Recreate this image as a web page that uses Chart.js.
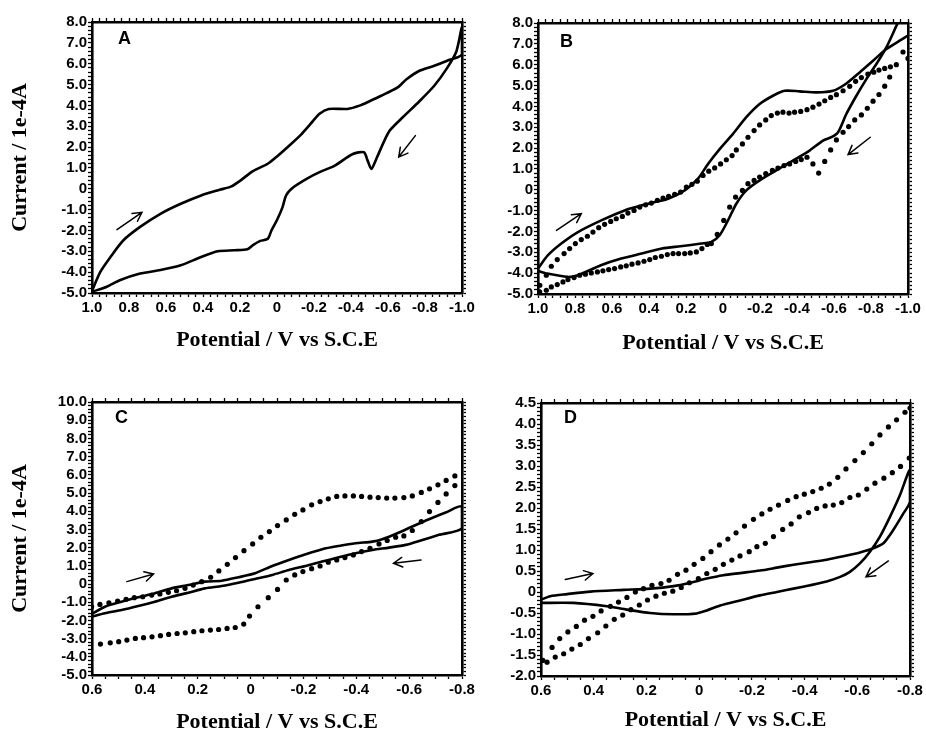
<!DOCTYPE html>
<html><head><meta charset="utf-8">
<script src="https://cdn.jsdelivr.net/npm/chart.js@4/dist/chart.umd.min.js"></script>
<style>
html,body{margin:0;padding:0;background:#fff;overflow:hidden;width:926px;height:730px}
#wrap{position:relative;width:926px;height:730px;overflow:hidden;background:#fff}
canvas{position:absolute;left:0;top:0}
</style></head>
<body><div id="wrap">
<canvas id="cA" width="926" height="760"></canvas>
<canvas id="cB" width="926" height="760"></canvas>
<canvas id="cC" width="926" height="760"></canvas>
<canvas id="cD" width="926" height="760"></canvas>
</div>
<script>
// ---------- Panel A ----------
const A_fwd_E = [1.0,0.955,0.90,0.83,0.74,0.63,0.52,0.41,0.31,0.25,0.2,0.13,0.05,0.0,-0.07,-0.13,-0.18,-0.23,-0.28,-0.38,-0.45,-0.5,-0.56,-0.65,-0.70,-0.77,-0.85,-0.92,-1.0];
const A_fwd_I = [-4.9,-3.99,-3.27,-2.47,-1.83,-1.2,-0.72,-0.32,-0.05,0.1,0.38,0.85,1.2,1.55,2.1,2.6,3.1,3.6,3.83,3.83,4.0,4.2,4.45,4.85,5.25,5.66,5.9,6.14,6.45];
const A_rev_E = [-1.0,-0.97,-0.92,-0.85,-0.77,-0.68,-0.61,-0.58,-0.54,-0.51,-0.49,-0.47,-0.41,-0.31,-0.23,-0.16,-0.09,-0.05,-0.03,0.0,0.03,0.05,0.09,0.13,0.16,0.23,0.32,0.41,0.52,0.63,0.74,0.85,0.92,1.0];
const A_rev_I = [7.75,6.6,5.8,4.94,4.2,3.43,2.8,2.3,1.5,0.95,1.35,1.75,1.67,1.1,0.8,0.48,0.08,-0.3,-0.88,-1.5,-2.0,-2.4,-2.5,-2.7,-2.9,-2.95,-3.0,-3.27,-3.67,-3.9,-4.07,-4.39,-4.7,-4.94];
const A_arrows = [[0.865,-1.96,0.73,-1.13],[-0.748,2.55,-0.658,1.52]];

// ---------- Panel B ----------
const B_fwd_E = [1.0,0.946,0.874,0.784,0.658,0.532,0.405,0.297,0.207,0.135,0.081,0.018,-0.054,-0.126,-0.198,-0.270,-0.333,-0.414,-0.505,-0.595,-0.667,-0.739,-0.811,-0.883,-0.955,-1.0];
const B_fwd_I = [-3.78,-3.14,-2.58,-2.03,-1.47,-0.99,-0.67,-0.43,-0.03,0.53,1.24,1.95,2.68,3.48,4.11,4.51,4.75,4.72,4.67,4.75,5.1,5.63,6.19,6.75,7.15,7.4];
const B_rev_E = [-0.96,-0.937,-0.883,-0.829,-0.775,-0.721,-0.667,-0.622,-0.586,-0.541,-0.468,-0.378,-0.288,-0.198,-0.126,-0.072,-0.027,0.018,0.063,0.117,0.23,0.33,0.44,0.55,0.66,0.785,0.84,0.95,1.0];
const B_rev_I = [8.3,7.86,6.83,6.03,5.31,4.51,3.64,2.76,2.52,2.36,1.88,1.40,0.93,0.45,-0.03,-0.67,-1.47,-2.18,-2.5,-2.58,-2.71,-2.82,-3.06,-3.30,-3.62,-4.10,-4.18,-4.02,-3.89];
const B_dotF_E = [0.99,0.955,0.928,0.896,0.859,0.829,0.798,0.766,0.733,0.703,0.672,0.640,0.607,0.577,0.544,0.514,0.481,0.450,0.418,0.387,0.355,0.324,0.294,0.261,0.229,0.198,0.168,0.139,0.108,0.077,0.045,0.013,-0.018,-0.049,-0.072,-0.105,-0.135,-0.168,-0.198,-0.231,-0.261,-0.294,-0.324,-0.357,-0.387,-0.420,-0.454,-0.486,-0.519,-0.550,-0.582,-0.613,-0.649,-0.685,-0.717,-0.748,-0.783,-0.815,-0.843,-0.874,-0.905,-0.937,-1.0];
const B_dotF_I = [-4.58,-4.10,-3.67,-3.35,-3.06,-2.82,-2.58,-2.39,-2.23,-2.03,-1.82,-1.66,-1.52,-1.39,-1.28,-1.12,-0.99,-0.83,-0.72,-0.64,-0.51,-0.40,-0.32,-0.22,-0.11,0.13,0.26,0.41,0.69,0.89,1.05,1.24,1.44,1.64,1.91,2.20,2.52,2.84,3.11,3.35,3.56,3.68,3.72,3.68,3.72,3.76,3.84,3.96,4.11,4.27,4.43,4.56,4.75,4.96,5.2,5.38,5.55,5.64,5.74,5.82,5.9,6.0,6.3];
const B_dotR_E = [-0.973,-0.901,-0.874,-0.843,-0.811,-0.780,-0.748,-0.712,-0.679,-0.649,-0.613,-0.582,-0.550,-0.517,-0.486,-0.454,-0.423,-0.393,-0.360,-0.330,-0.297,-0.267,-0.231,-0.198,-0.168,-0.135,-0.105,-0.068,-0.036,-0.004,0.031,0.063,0.085,0.114,0.144,0.177,0.207,0.240,0.270,0.301,0.333,0.366,0.396,0.427,0.459,0.492,0.523,0.553,0.586,0.618,0.649,0.679,0.712,0.744,0.775,0.805,0.838,0.865,0.896,0.928,0.955,0.991];
const B_dotR_I = [6.61,5.41,4.97,4.57,4.25,3.91,3.59,3.35,3.03,2.76,2.39,1.91,1.36,0.80,1.24,1.56,1.45,1.36,1.24,1.16,1.04,0.93,0.77,0.61,0.45,0.29,-0.03,-0.35,-0.83,-1.47,-2.14,-2.58,-2.62,-2.82,-2.98,-3.03,-3.06,-3.06,-3.06,-3.11,-3.19,-3.25,-3.35,-3.43,-3.51,-3.57,-3.65,-3.70,-3.78,-3.83,-3.89,-3.94,-3.99,-4.05,-4.10,-4.21,-4.31,-4.42,-4.55,-4.66,-4.82,-4.90];
const B_arrows = [[0.90,-1.95,0.766,-1.15],[-0.796,2.52,-0.676,1.69]];

// ---------- Panel C ----------
const C_fwd_E = [0.601,0.551,0.488,0.425,0.362,0.299,0.236,0.173,0.109,0.046,-0.017,-0.082,-0.145,-0.208,-0.271,-0.334,-0.397,-0.461,-0.498,-0.549,-0.612,-0.675,-0.738,-0.8];
const C_fwd_I = [-1.65,-1.25,-0.97,-0.73,-0.51,-0.24,-0.06,0.13,0.18,0.37,0.59,0.99,1.32,1.63,1.91,2.09,2.24,2.33,2.46,2.75,3.16,3.56,3.93,4.26];
const C_rev_E = [-0.8,-0.713,-0.650,-0.587,-0.524,-0.461,-0.397,-0.334,-0.271,-0.208,-0.145,-0.082,-0.017,0.046,0.109,0.173,0.236,0.299,0.362,0.425,0.488,0.551,0.601];
const C_rev_I = [3.06,2.70,2.42,2.15,2.0,1.87,1.69,1.47,1.23,0.99,0.77,0.50,0.28,0.07,-0.11,-0.24,-0.48,-0.70,-0.97,-1.21,-1.43,-1.61,-1.80];
const C_dotF_E = [0.601,0.570,0.536,0.503,0.471,0.440,0.408,0.374,0.343,0.311,0.280,0.248,0.217,0.185,0.151,0.120,0.088,0.057,0.025,-0.008,-0.039,-0.071,-0.102,-0.135,-0.167,-0.198,-0.231,-0.263,-0.294,-0.326,-0.357,-0.389,-0.420,-0.452,-0.483,-0.515,-0.546,-0.580,-0.612,-0.646,-0.677,-0.709,-0.740,-0.773];
const C_dotF_I = [-1.25,-1.12,-1.03,-0.94,-0.84,-0.75,-0.70,-0.61,-0.55,-0.46,-0.37,-0.24,-0.06,0.13,0.37,0.72,1.08,1.45,1.83,2.20,2.57,2.88,3.21,3.52,3.83,4.07,4.35,4.53,4.68,4.81,4.84,4.84,4.81,4.77,4.75,4.72,4.72,4.75,4.84,5.03,5.23,5.45,5.69,5.94];
const C_dotR_E = [-0.773,-0.740,-0.709,-0.677,-0.646,-0.612,-0.580,-0.549,-0.517,-0.486,-0.452,-0.420,-0.389,-0.357,-0.326,-0.294,-0.263,-0.231,-0.198,-0.167,-0.135,-0.102,-0.067,-0.028,0.004,0.026,0.058,0.089,0.121,0.152,0.184,0.215,0.247,0.278,0.310,0.341,0.373,0.405,0.436,0.468,0.499,0.531,0.568];
const C_dotR_I = [5.41,4.95,4.48,3.98,3.43,2.94,2.64,2.57,2.39,2.20,1.96,1.78,1.60,1.45,1.32,1.20,0.99,0.84,0.68,0.50,0.22,-0.30,-0.75,-1.25,-1.76,-2.20,-2.39,-2.44,-2.50,-2.53,-2.57,-2.62,-2.68,-2.72,-2.77,-2.84,-2.90,-2.95,-2.99,-3.08,-3.17,-3.23,-3.30];
const C_arrows = [[0.468,0.13,0.367,0.55],[-0.645,1.32,-0.541,1.14]];

// ---------- Panel D ----------
const D_fwd_E = [0.603,0.565,0.501,0.413,0.287,0.186,0.097,0.034,-0.029,-0.092,-0.155,-0.231,-0.295,-0.358,-0.421,-0.484,-0.547,-0.610,-0.661,-0.699,-0.737,-0.775,-0.800];
const D_fwd_I = [-0.19,-0.10,-0.05,0.01,0.05,0.08,0.14,0.22,0.32,0.40,0.45,0.51,0.58,0.65,0.71,0.77,0.85,0.94,1.04,1.16,1.48,1.87,2.15];
const D_rev_E = [-0.800,-0.762,-0.724,-0.686,-0.648,-0.610,-0.572,-0.535,-0.484,-0.421,-0.358,-0.295,-0.231,-0.155,-0.080,-0.029,0.009,0.097,0.186,0.274,0.350,0.477,0.603];
const D_rev_I = [2.91,2.31,1.79,1.32,0.96,0.68,0.48,0.36,0.25,0.16,0.08,0.0,-0.08,-0.20,-0.32,-0.44,-0.51,-0.53,-0.50,-0.42,-0.34,-0.26,-0.26];
const D_dot1_E = [0.593,0.558,0.529,0.498,0.466,0.435,0.403,0.372,0.337,0.306,0.274,0.242,0.211,0.179,0.145,0.114,0.082,0.050,0.019,-0.014,-0.045,-0.077,-0.109,-0.140,-0.172,-0.206,-0.238,-0.269,-0.301,-0.336,-0.368,-0.399,-0.431,-0.463,-0.494,-0.526,-0.557,-0.591,-0.623,-0.655,-0.686,-0.718,-0.749,-0.781,-0.800];
const D_dot1_I = [-1.63,-1.32,-1.11,-0.95,-0.82,-0.67,-0.58,-0.45,-0.34,-0.24,-0.13,0.00,0.08,0.16,0.20,0.28,0.42,0.52,0.66,0.80,0.96,1.12,1.26,1.41,1.57,1.73,1.86,1.97,2.07,2.18,2.27,2.33,2.39,2.47,2.57,2.73,2.93,3.13,3.32,3.53,3.74,3.93,4.10,4.28,4.38];
const D_dot2_E = [0.577,0.546,0.514,0.483,0.451,0.420,0.385,0.354,0.322,0.290,0.259,0.227,0.196,0.164,0.132,0.100,0.068,0.037,0.003,-0.029,-0.061,-0.092,-0.124,-0.155,-0.190,-0.219,-0.251,-0.282,-0.317,-0.349,-0.380,-0.415,-0.446,-0.478,-0.509,-0.541,-0.572,-0.604,-0.636,-0.667,-0.701,-0.733,-0.764,-0.797];
const D_dot2_I = [-1.67,-1.55,-1.47,-1.36,-1.25,-1.11,-0.97,-0.81,-0.65,-0.55,-0.42,-0.31,-0.19,-0.10,-0.03,0.02,0.11,0.22,0.32,0.44,0.54,0.66,0.76,0.86,0.96,1.08,1.16,1.32,1.49,1.62,1.79,1.89,1.99,2.05,2.07,2.13,2.25,2.31,2.45,2.59,2.71,2.84,2.99,3.19];
const D_arrows = [[0.508,0.30,0.403,0.44],[-0.718,0.74,-0.633,0.36]];

// axis labels
const Y_TITLE = 'Current / 1e-4A';
const X_TITLE = 'Potential / V vs S.C.E';

// ---------- helpers ----------
const pts = (E, I) => E.map((e, k) => ({x: e, y: I[k]}));
const isMul = (v, s) => { const r = v / s; return Math.abs(r - Math.round(r)) < 1e-6; };
const fmt = v => Math.abs(v) < 1e-9 ? '0' : v.toFixed(1);
const SANS = '"Liberation Sans", Arial, sans-serif';
const SERIF = '"Liberation Serif", "Times New Roman", serif';
const CH = 760;

const decor = {
  id: 'decor',
  afterDatasetsDraw(chart, args, o) {
    const {ctx, chartArea: a} = chart;
    const x = chart.scales.x, y = chart.scales.y;
    ctx.save();
    ctx.fillStyle = '#000';
    ctx.font = 'bold 18px ' + SANS;
    ctx.textBaseline = 'alphabetic';
    ctx.textAlign = 'left';
    ctx.fillText(o.letter, a.left + o.lx, a.top + o.ly);
    ctx.strokeStyle = '#000';
    ctx.lineWidth = 1.5;
    ctx.lineCap = 'round';
    for (const [e1, i1, e2, i2] of o.arrows) {
      const x1 = x.getPixelForValue(e1), y1 = y.getPixelForValue(i1);
      const x2 = x.getPixelForValue(e2), y2 = y.getPixelForValue(i2);
      const ang = Math.atan2(y2 - y1, x2 - x1), L = 10, sp = 0.5;
      ctx.beginPath();
      ctx.moveTo(x1, y1); ctx.lineTo(x2, y2);
      ctx.moveTo(x2 - L * Math.cos(ang - sp), y2 - L * Math.sin(ang - sp));
      ctx.lineTo(x2, y2);
      ctx.lineTo(x2 - L * Math.cos(ang + sp), y2 - L * Math.sin(ang + sp));
      ctx.stroke();
    }
    ctx.restore();
  }
};

function panel(id, g) {
  const solid = g.lines.map(d => ({
    data: d, showLine: true, borderColor: '#000', borderWidth: 2.6,
    pointRadius: 0, tension: 0.25, fill: false
  }));
  const dots = g.dots.map(d => ({
    data: d, showLine: false, pointRadius: 2.6, pointBackgroundColor: '#000',
    pointBorderWidth: 0, borderColor: '#000'
  }));
  const wy = g.L - g.left;
  const hx = g.xTitleY + 13.2 + 4 - g.B;
  const tickFont = {family: SANS, weight: 'bold', size: 15};
  const gridBase = {drawOnChartArea: false, tickLength: 4, color: '#000', tickWidth: 1.3};
  const border = {display: true, color: '#000', width: 2.6};
  new Chart(document.getElementById(id), {
    type: 'scatter',
    data: {datasets: [...solid, ...dots]},
    options: {
      responsive: false, animation: false, events: [],
      layout: {padding: {left: g.left, top: g.T, right: 926 - g.R, bottom: CH - g.B - hx}},
      plugins: {legend: {display: false}, tooltip: {enabled: false},
        decor: {letter: g.letter, lx: g.lx, ly: g.ly, arrows: g.arrows}},
      scales: {
        x: {type: 'linear', position: 'bottom', min: g.xmin, max: g.xmax, reverse: true,
          ticks: {stepSize: g.xMinor, autoSkip: false, maxRotation: 0, minRotation: 0, padding: 2,
            color: '#000', font: tickFont, callback: v => isMul(v, g.xMajor) ? fmt(v) : ''},
          grid: gridBase, border: border,
          title: {display: true, text: X_TITLE, color: '#000',
            font: {family: SERIF, weight: 'bold', size: 22, lineHeight: 1.2}, padding: {top: 0, bottom: 4}},
          afterFit(s) { s.height = hx; }},
        x2: {type: 'linear', position: 'top', min: g.xmin, max: g.xmax, reverse: true,
          ticks: {display: false, stepSize: g.xMinor}, grid: gridBase, border: border,
          afterFit(s) { s.height = 0; }},
        y: {type: 'linear', position: 'left', min: g.ymin, max: g.ymax,
          ticks: {stepSize: g.yMinor, autoSkip: false, padding: 1, color: '#000', font: tickFont,
            callback: v => isMul(v, g.yMajor) ? fmt(v) : ''},
          grid: gridBase, border: border,
          title: {display: g.yTitle, text: Y_TITLE, color: '#000',
            font: {family: SERIF, weight: 'bold', size: 22, lineHeight: 1.2},
            padding: {top: Math.max(0, g.yTitleX - g.left - 13.2), bottom: 0}},
          afterFit(s) { s.width = wy; }},
        y2: {type: 'linear', position: 'right', min: g.ymin, max: g.ymax,
          ticks: {display: false, stepSize: g.yMinor}, grid: gridBase, border: border,
          afterFit(s) { s.width = 0; }}
      }
    },
    plugins: [decor]
  });
}

panel('cA', {L: 92, R: 462, T: 22, B: 293, left: 0, xTitleY: 340, yTitle: true, yTitleX: 20,
  xmin: -1, xmax: 1, xMinor: 0.04, xMajor: 0.2, ymin: -5, ymax: 8, yMinor: 0.2, yMajor: 1,
  letter: 'A', lx: 26, ly: 22, arrows: A_arrows,
  lines: [pts(A_fwd_E.concat(A_rev_E), A_fwd_I.concat(A_rev_I))], dots: []});

panel('cB', {L: 538, R: 908, T: 23, B: 294, left: 470, xTitleY: 343, yTitle: false, yTitleX: 0,
  xmin: -1, xmax: 1, xMinor: 0.04, xMajor: 0.2, ymin: -5, ymax: 8, yMinor: 0.2, yMajor: 1,
  letter: 'B', lx: 22, ly: 24, arrows: B_arrows,
  lines: [pts(B_fwd_E, B_fwd_I), pts(B_rev_E, B_rev_I)],
  dots: [pts(B_dotF_E, B_dotF_I), pts(B_dotR_E, B_dotR_I)]});

panel('cC', {L: 92, R: 462, T: 402, B: 675, left: 0, xTitleY: 722, yTitle: true, yTitleX: 20,
  xmin: -0.8, xmax: 0.6, xMinor: 0.05, xMajor: 0.2, ymin: -5, ymax: 10, yMinor: 0.2, yMajor: 1,
  letter: 'C', lx: 23, ly: 21, arrows: C_arrows,
  lines: [pts(C_fwd_E.concat(C_rev_E), C_fwd_I.concat(C_rev_I))],
  dots: [pts(C_dotF_E, C_dotF_I), pts(C_dotR_E, C_dotR_I)]});

panel('cD', {L: 541, R: 910, T: 403, B: 676, left: 470, xTitleY: 720, yTitle: false, yTitleX: 0,
  xmin: -0.8, xmax: 0.6, xMinor: 0.05, xMajor: 0.2, ymin: -2, ymax: 4.5, yMinor: 0.1, yMajor: 0.5,
  letter: 'D', lx: 23, ly: 20, arrows: D_arrows,
  lines: [pts(D_fwd_E.concat(D_rev_E), D_fwd_I.concat(D_rev_I))],
  dots: [pts(D_dot1_E, D_dot1_I), pts(D_dot2_E, D_dot2_I)]});
</script>
</body></html>
